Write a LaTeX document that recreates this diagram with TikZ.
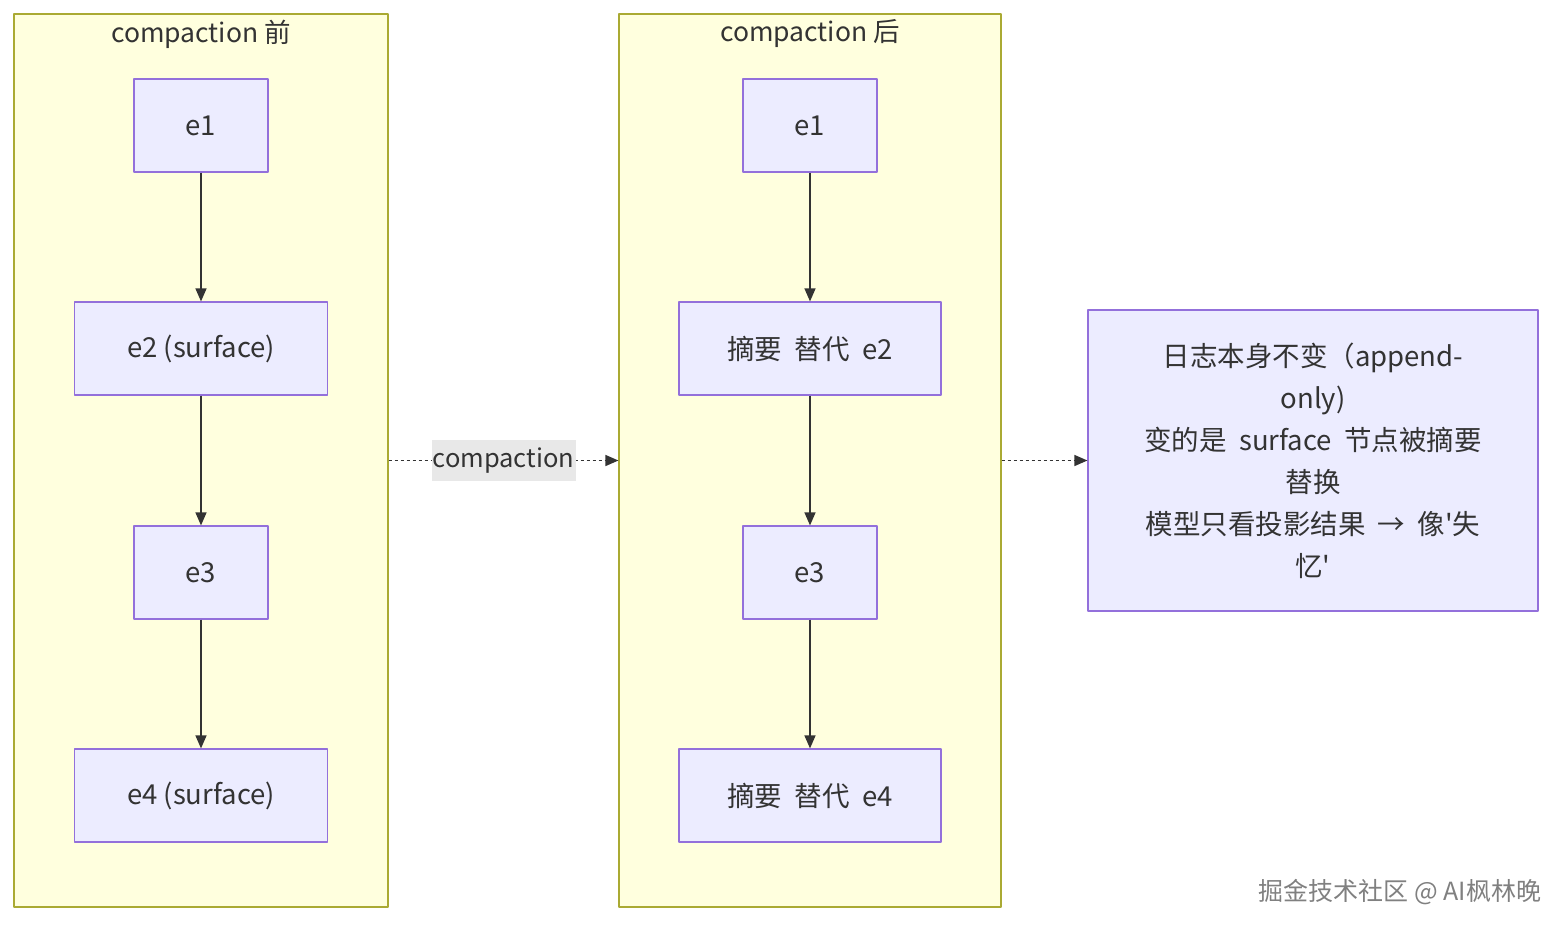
\documentclass[tikz,border=0pt]{standalone}
\usepackage{fontspec}
\setmainfont{Noto Sans CJK SC}
\newfontfamily\cjk{Noto Sans CJK SC}
\usetikzlibrary{arrows.meta}
\definecolor{clfill}{HTML}{FFFFDE}
\definecolor{clline}{HTML}{AAAA33}
\definecolor{ndfill}{HTML}{ECECFF}
\definecolor{ndline}{HTML}{9370DB}
\definecolor{txt}{HTML}{333333}
\definecolor{lblbg}{HTML}{E8E8E8}

\begin{document}
\begin{tikzpicture}[x=1pt,y=-1pt,line join=round,
    cluster/.style={draw=clline,fill=clfill,line width=1.2pt,inner sep=0pt},
    title/.style={text=txt,inner sep=0pt,font=\cjk\fontsize{26.5}{30}\selectfont},
    box/.style={draw=ndline,fill=ndfill,line width=1.2pt,text=txt,inner sep=0pt,
                font=\cjk\fontsize{27.5}{32}\selectfont},
    small/.style={box,minimum width=134pt,minimum height=93pt},
    wide/.style={box,minimum width=253pt,minimum height=93pt},
    flow/.style={draw=txt,line width=1.3pt,-{Triangle[length=13pt,width=11pt]}},
    jump/.style={draw=txt,line width=1.4pt,dash pattern=on 3pt off 3pt,
                 -{Triangle[length=13pt,width=11pt]}}]
    \useasboundingbox (0,0) rectangle (1568,932);

    % the two clusters
    \node[cluster,minimum width=374pt,minimum height=893pt] (before) at (201,460.5) {};
    \node[cluster,minimum width=382pt,minimum height=893pt] (after) at (810,460.5) {};
    \node[title] (tbefore) at (201,34) {compaction\ 前};
    \node[title] (tafter) at (810,34) {compaction\ 后};

    % before
    \node[small] (b1) at (201,125.5) {e1};
    \node[wide]  (b2) at (201,348.5) {e2 (surface)};
    \node[small] (b3) at (201,572.5) {e3};
    \node[wide]  (b4) at (201,795.5) {e4 (surface)};

    % after
    \node[small] (a1) at (810,125.5) {e1};
    \node[wide,minimum width=262pt] (a2) at (810,348.5) {摘要\ \ 替代\ \ e2};
    \node[small] (a3) at (810,572.5) {e3};
    \node[wide,minimum width=262pt] (a4) at (810,795.5) {摘要\ \ 替代\ \ e4};

    \foreach \s/\t in {b1/b2,b2/b3,b3/b4,a1/a2,a2/a3,a3/a4}
        \draw[flow] (\s) -- (\t);

    % note
    \node[box,minimum width=450pt,minimum height=301pt,align=center,
          font=\cjk\fontsize{27.5}{42}\selectfont] (note) at (1313,460.5)
        {日志本身不变（append-\\only)\\变的是\ \ surface\ \ 节点被摘要\\替换\\模型只看投影结果\ \ →\ \ 像'失\\忆'};

    \draw[jump] (before.east) -- node[fill=lblbg,text=txt,inner sep=0pt,
        minimum width=144pt,minimum height=41pt,font=\cjk\fontsize{25.5}{30}\selectfont] (lbl) {compaction} (after.west);
    \draw[jump] (after.east) -- (note.west);

    \node[text=black!50,font=\cjk\fontsize{25}{28}\selectfont] (mark) at (1400,892) {掘金技术社区 @ AI枫林晚};
\end{tikzpicture}
\end{document}
